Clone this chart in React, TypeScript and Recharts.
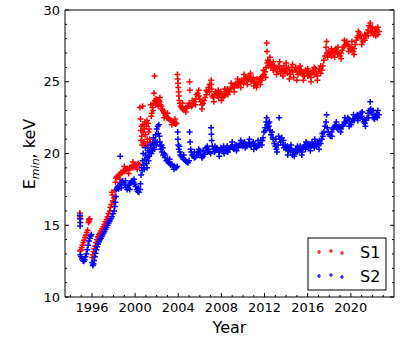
import { ScatterChart, Scatter, XAxis, YAxis } from 'recharts';

// [year, E_min keV], S1 (red)
const s1Early: [number, number][] = [
  [1994.88, 15.85], [1994.9, 15.6], [1994.92, 15.45],
  [1994.9, 13.2], [1994.98, 13.3], [1995.05, 13.45], [1995.12, 13.6], [1995.2, 13.8],
  [1995.28, 13.95], [1995.36, 14.15], [1995.44, 14.3], [1995.52, 14.5], [1995.6, 14.65],
  [1995.68, 15.2], [1995.72, 15.4], [1995.76, 15.3], [1995.8, 15.45],
  [1996.02, 12.75], [1996.08, 12.95], [1996.15, 13.15], [1996.22, 13.35], [1996.3, 13.55],
  [1996.38, 13.8], [1996.46, 14.0], [1996.55, 14.2], [1996.65, 14.35], [1996.75, 14.45],
  [1996.85, 14.6], [1996.95, 14.75], [1997.05, 14.9], [1997.15, 15.05], [1997.25, 15.25],
  [1997.35, 15.4], [1997.45, 15.6], [1997.55, 15.8], [1997.65, 16.0], [1997.72, 16.25],
  [1997.8, 16.45], [1997.85, 17.3], [1997.9, 17.1], [1997.95, 16.7], [1998.0, 16.6],
  [1998.05, 16.9], [1998.12, 17.4], [1998.18, 18.0], [1998.22, 18.3], [1998.3, 18.4],
  [1998.4, 18.35], [1998.5, 18.5], [1998.6, 18.55], [1998.7, 18.7], [1998.8, 18.65],
  [1998.9, 18.8], [1999.0, 18.75], [1999.1, 18.85], [1999.2, 18.9], [1999.3, 18.95],
  [1999.4, 18.85], [1999.5, 19.0], [1999.6, 19.05], [1999.7, 19.1], [1999.8, 19.0],
  [1999.9, 19.15], [2000.0, 19.2], [2000.1, 19.1], [2000.2, 19.25], [2000.3, 19.3],
  [2000.4, 19.2],
];

const s1Jump: [number, number][] = [
  [2000.45, 23.2], [2000.5, 22.4], [2000.52, 21.6], [2000.55, 20.9], [2000.6, 21.9],
  [2000.62, 21.2], [2000.65, 20.6], [2000.7, 23.3], [2000.72, 22.0], [2000.75, 21.5],
  [2000.8, 20.8], [2000.85, 21.7], [2000.9, 22.2], [2000.92, 20.7], [2000.95, 21.3],
  [2001.0, 20.5], [2001.05, 21.9], [2001.1, 22.3], [2001.12, 21.0], [2001.18, 20.6],
  [2001.2, 22.1], [2001.25, 21.5], [2001.3, 21.7], [2001.35, 21.0], [2001.4, 20.8],
  [2001.45, 23.4], [2001.5, 22.6], [2001.55, 22.8], [2001.6, 23.2], [2001.65, 23.0],
  [2001.7, 23.5], [2001.75, 24.2], [2001.8, 25.4], [2001.82, 23.7], [2001.9, 23.4],
  [2001.95, 23.8], [2002.0, 23.5], [2002.08, 23.6], [2002.15, 23.3], [2002.2, 23.7],
  [2002.28, 23.6], [2002.35, 23.4], [2002.42, 23.3], [2002.5, 23.1], [2002.58, 23.0],
  [2002.65, 22.9], [2002.72, 22.8], [2002.8, 22.7], [2002.88, 22.6], [2002.95, 22.5],
  [2003.05, 22.45], [2003.15, 22.4], [2003.25, 22.35], [2003.35, 22.3], [2003.45, 22.2],
  [2003.55, 22.15], [2003.65, 22.1], [2003.75, 22.05], [2003.85, 22.1],
];

const s1Mid: [number, number][] = [
  [2003.92, 25.5], [2003.95, 25.2], [2003.98, 24.9], [2004.0, 24.6], [2004.03, 24.3],
  [2004.06, 24.0], [2004.1, 23.7], [2004.15, 23.5], [2004.22, 23.3], [2004.3, 23.2],
  [2004.4, 23.1], [2004.5, 23.05], [2004.6, 23.1], [2004.7, 23.2], [2004.8, 23.15],
  [2004.9, 23.3], [2005.0, 23.5], [2005.05, 25.0], [2005.08, 24.4], [2005.12, 23.4],
  [2005.2, 23.3], [2005.3, 23.35], [2005.4, 23.5], [2005.5, 23.6], [2005.6, 23.8],
  [2005.7, 24.1], [2005.8, 24.2], [2005.9, 24.0], [2006.0, 23.8], [2006.1, 23.6],
  [2006.2, 23.4], [2006.3, 23.5], [2006.4, 23.7], [2006.5, 23.9], [2006.6, 24.1],
  [2006.7, 24.3], [2006.8, 24.6], [2006.9, 24.8], [2007.05, 25.1], [2007.07, 24.8],
  [2007.1, 24.5], [2007.15, 24.0], [2007.25, 23.9], [2007.35, 24.1], [2007.45, 24.3],
  [2007.55, 24.2], [2007.65, 24.0], [2007.75, 23.9], [2007.85, 24.1], [2007.95, 24.3],
  [2008.05, 24.1], [2008.15, 23.9], [2008.25, 24.0], [2008.35, 24.2], [2008.45, 24.4],
  [2008.55, 24.5], [2008.65, 24.4], [2008.75, 24.3], [2008.85, 24.5], [2008.95, 24.6],
  [2009.05, 24.7], [2009.15, 24.6], [2009.25, 24.8], [2009.35, 24.9], [2009.45, 24.7],
  [2009.55, 24.8], [2009.65, 25.0], [2009.75, 24.9], [2009.85, 25.1], [2009.95, 25.0],
  [2010.05, 24.9], [2010.15, 25.2], [2010.25, 25.3], [2010.35, 25.1], [2010.45, 25.3],
  [2010.55, 25.4], [2010.65, 25.2], [2010.75, 25.0], [2010.85, 25.1], [2010.95, 25.3],
  [2011.05, 25.0], [2011.15, 24.9], [2011.25, 24.6], [2011.35, 24.8], [2011.45, 25.0],
  [2011.55, 25.2], [2011.65, 25.3], [2011.75, 25.1], [2011.85, 25.4], [2011.95, 25.5],
  [2012.05, 25.7], [2012.1, 25.3],
];

const s1Late: [number, number][] = [
  [2012.15, 26.0], [2012.2, 27.7], [2012.22, 27.1], [2012.25, 26.3], [2012.3, 26.5],
  [2012.35, 26.1], [2012.4, 26.4], [2012.5, 26.3], [2012.6, 26.0], [2012.7, 26.2],
  [2012.8, 25.8], [2012.9, 26.1], [2013.0, 25.9], [2013.1, 26.0], [2013.2, 25.7],
  [2013.3, 26.1], [2013.4, 25.9], [2013.5, 25.6], [2013.6, 25.9], [2013.7, 25.8],
  [2013.8, 26.1], [2013.9, 25.7], [2014.0, 25.9], [2014.1, 25.6], [2014.2, 26.0],
  [2014.3, 25.8], [2014.4, 25.5], [2014.5, 26.0], [2014.6, 25.7], [2014.7, 25.3],
  [2014.8, 25.8], [2014.9, 26.0], [2015.0, 25.7], [2015.1, 25.5], [2015.2, 25.9],
  [2015.3, 25.6], [2015.4, 25.8], [2015.5, 25.5], [2015.6, 25.7], [2015.7, 25.4],
  [2015.8, 25.8], [2015.9, 25.6], [2016.0, 25.4], [2016.1, 25.7], [2016.2, 25.5],
  [2016.3, 25.3], [2016.4, 25.6], [2016.5, 25.8], [2016.6, 25.5], [2016.7, 25.9],
  [2016.8, 25.6], [2016.9, 25.4], [2017.0, 25.7], [2017.1, 25.9], [2017.2, 25.6],
  [2017.3, 25.8], [2017.4, 26.1], [2017.5, 26.5], [2017.6, 26.8], [2017.7, 27.4],
  [2017.75, 27.8], [2017.8, 27.0], [2017.85, 26.7], [2017.9, 27.1], [2018.0, 26.9],
  [2018.1, 27.0], [2018.2, 26.8], [2018.3, 27.1], [2018.4, 27.0], [2018.5, 27.2],
  [2018.6, 27.3], [2018.7, 27.1], [2018.8, 26.9], [2018.9, 27.0], [2019.0, 26.8],
  [2019.1, 27.0], [2019.2, 27.2], [2019.3, 27.4], [2019.4, 27.5], [2019.5, 27.6],
  [2019.6, 27.8], [2019.7, 27.6], [2019.8, 27.5], [2019.9, 27.3], [2020.0, 27.2],
  [2020.1, 27.4], [2020.2, 27.1], [2020.3, 27.3], [2020.4, 27.6], [2020.5, 27.9],
  [2020.6, 28.1], [2020.7, 28.2], [2020.8, 28.4], [2020.9, 28.2], [2021.0, 28.0],
  [2021.1, 27.8], [2021.2, 28.0], [2021.3, 27.9], [2021.4, 28.2], [2021.5, 28.4],
  [2021.6, 28.6], [2021.7, 28.9], [2021.8, 29.1], [2021.85, 28.8], [2021.9, 28.5],
  [2022.0, 28.4], [2022.1, 28.3], [2022.2, 28.5], [2022.3, 28.7], [2022.4, 28.6],
  [2022.5, 28.8], [2022.6, 28.5],
];

// upper / lower edges of the S1 scatter band
const s1Spread: [number, number][] = [
  [1998.6, 18.2], [1999.0, 19.1], [1999.4, 18.6], [1999.8, 19.4], [2000.2, 18.9],
  [2002.3, 23.9], [2002.7, 22.5], [2003.0, 22.8], [2003.4, 22.0], [2003.7, 22.4],
  [2004.4, 23.5], [2004.7, 22.9], [2005.3, 23.7], [2005.6, 23.4], [2005.9, 24.4],
  [2006.2, 23.1], [2006.6, 24.4], [2006.9, 24.3], [2007.3, 23.6], [2007.7, 24.4],
  [2008.0, 23.7], [2008.3, 24.5], [2008.6, 24.1], [2008.9, 24.9], [2009.2, 24.3],
  [2009.5, 25.2], [2009.8, 24.6], [2010.1, 25.5], [2010.4, 24.8], [2010.7, 25.6],
  [2011.0, 24.7], [2011.3, 25.2], [2011.6, 24.8], [2011.9, 25.8], [2012.5, 26.7],
  [2012.8, 26.4], [2013.1, 25.5], [2013.4, 26.4], [2013.7, 25.4], [2014.0, 26.3],
  [2014.3, 25.2], [2014.6, 26.2], [2015.0, 25.1], [2015.3, 26.1], [2015.6, 25.1],
  [2016.0, 25.9], [2016.3, 25.0], [2016.6, 26.0], [2016.9, 25.1], [2017.2, 26.1],
  [2018.2, 27.3], [2018.5, 26.7], [2018.8, 27.4], [2019.1, 26.6], [2019.4, 27.9],
  [2019.8, 27.1], [2020.1, 27.8], [2020.3, 26.9], [2020.7, 28.5], [2021.0, 27.6],
  [2021.3, 28.3], [2021.6, 28.2], [2022.0, 28.8], [2022.3, 28.2], [2022.5, 28.3],
];

// S2 (blue)
const s2Early: [number, number][] = [
  [1994.88, 15.7], [1994.9, 15.45], [1994.92, 15.2], [1994.9, 14.95],
  [1994.92, 12.95], [1995.0, 12.8], [1995.08, 12.65], [1995.16, 12.55], [1995.24, 12.5],
  [1995.32, 12.6], [1995.4, 12.8], [1995.48, 13.0], [1995.56, 13.3], [1995.64, 13.6],
  [1995.72, 13.9], [1995.8, 14.1], [1995.88, 14.25], [1995.94, 14.35],
  [1996.02, 12.4], [1996.08, 12.2], [1996.14, 12.3], [1996.2, 12.55], [1996.26, 12.8],
  [1996.33, 13.05], [1996.4, 13.3], [1996.48, 13.5], [1996.56, 13.7], [1996.65, 13.85],
  [1996.75, 14.0], [1996.85, 14.1], [1996.95, 14.25], [1997.05, 14.4], [1997.15, 14.55],
  [1997.25, 14.7], [1997.35, 14.85], [1997.45, 15.0], [1997.55, 15.15], [1997.65, 15.3],
  [1997.75, 15.45], [1997.85, 15.6], [1997.95, 15.8], [1998.05, 16.0], [1998.12, 16.3],
  [1998.18, 16.6], [1998.22, 17.0], [1998.26, 17.5], [1998.32, 17.6], [1998.4, 17.7],
  [1998.48, 17.55], [1998.55, 17.7], [1998.62, 19.8], [1998.65, 17.9], [1998.75, 18.0],
  [1998.85, 18.1], [1998.95, 17.95], [1999.05, 17.8], [1999.15, 17.65], [1999.25, 17.5],
  [1999.35, 17.6], [1999.45, 17.8], [1999.55, 17.95], [1999.65, 18.05], [1999.75, 18.1],
  [1999.85, 18.0], [1999.95, 17.85], [2000.05, 17.7], [2000.15, 17.5], [2000.25, 17.35],
  [2000.35, 17.3], [2000.45, 17.5],
];

const s2Jump: [number, number][] = [
  [2000.5, 17.9], [2000.55, 18.5], [2000.6, 19.0], [2000.65, 18.8], [2000.7, 19.5],
  [2000.75, 20.0], [2000.8, 19.2], [2000.85, 18.9], [2000.9, 19.6], [2000.95, 20.4],
  [2001.0, 19.9], [2001.05, 19.3], [2001.1, 19.0], [2001.15, 19.7], [2001.2, 20.2],
  [2001.25, 19.5], [2001.3, 19.8], [2001.35, 20.1], [2001.4, 20.6], [2001.45, 20.3],
  [2001.5, 20.0], [2001.55, 20.4], [2001.6, 20.2], [2001.65, 20.7], [2001.7, 21.1],
  [2001.75, 20.6], [2001.8, 20.3], [2001.85, 20.9], [2001.9, 21.3], [2001.95, 20.6],
  [2002.0, 21.7], [2002.05, 20.8], [2002.1, 21.9], [2002.15, 21.4], [2002.2, 22.0],
  [2002.25, 21.2], [2002.3, 20.8], [2002.35, 20.5], [2002.4, 20.3], [2002.45, 20.6],
  [2002.5, 20.1], [2002.55, 20.4], [2002.6, 19.9], [2002.7, 20.0], [2002.8, 19.7],
  [2002.9, 19.5], [2003.0, 19.6], [2003.1, 19.4], [2003.2, 19.3], [2003.3, 19.2],
  [2003.4, 19.25], [2003.5, 19.15], [2003.6, 19.1], [2003.7, 19.05], [2003.8, 19.0],
  [2003.9, 19.1],
];

const s2Mid: [number, number][] = [
  [2003.95, 21.5], [2003.97, 21.0], [2004.0, 20.6], [2004.05, 20.3], [2004.1, 20.5],
  [2004.15, 20.1], [2004.2, 19.9], [2004.3, 19.8], [2004.4, 19.7], [2004.5, 19.6],
  [2004.6, 19.55], [2004.7, 19.5], [2004.8, 19.4], [2004.9, 19.35], [2005.0, 19.5],
  [2005.05, 21.5], [2005.1, 20.8], [2005.15, 20.3], [2005.2, 20.1], [2005.3, 19.9],
  [2005.4, 19.8], [2005.5, 19.7], [2005.6, 19.75], [2005.7, 19.9], [2005.8, 20.1],
  [2005.9, 20.3], [2006.0, 20.2], [2006.1, 19.9], [2006.2, 19.7], [2006.3, 19.8],
  [2006.4, 19.95], [2006.5, 20.2], [2006.6, 20.4], [2006.7, 20.5], [2006.8, 20.3],
  [2006.9, 20.1], [2007.0, 20.0], [2007.05, 21.8], [2007.07, 21.35], [2007.1, 20.9],
  [2007.15, 20.5], [2007.25, 20.3], [2007.35, 20.1], [2007.45, 20.2], [2007.55, 20.4],
  [2007.65, 20.3], [2007.75, 20.1], [2007.85, 20.2], [2007.95, 20.4], [2008.05, 20.3],
  [2008.15, 20.15], [2008.25, 20.0], [2008.35, 20.2], [2008.45, 20.4], [2008.55, 20.5],
  [2008.65, 20.35], [2008.75, 20.3], [2008.85, 20.45], [2008.95, 20.5], [2009.05, 20.4],
  [2009.15, 20.3], [2009.25, 20.5], [2009.35, 20.6], [2009.45, 20.5], [2009.55, 20.4],
  [2009.65, 20.6], [2009.75, 20.7], [2009.85, 20.6], [2009.95, 20.5], [2010.05, 20.7],
  [2010.15, 20.8], [2010.25, 20.6], [2010.35, 20.5], [2010.45, 20.6], [2010.55, 20.75],
  [2010.65, 20.6], [2010.75, 20.5], [2010.85, 20.7], [2010.95, 20.8], [2011.05, 20.6],
  [2011.15, 20.5], [2011.25, 20.4], [2011.35, 20.5], [2011.45, 20.7], [2011.55, 20.6],
  [2011.65, 20.9], [2011.75, 20.6], [2011.85, 21.1], [2011.95, 21.5], [2012.05, 21.8],
  [2012.1, 21.6],
];

const s2Late: [number, number][] = [
  [2012.15, 22.2], [2012.2, 22.5], [2012.25, 22.0], [2012.3, 21.8], [2012.35, 22.1],
  [2012.4, 21.9], [2012.5, 21.6], [2012.6, 21.3], [2012.7, 21.5], [2012.8, 21.0],
  [2012.9, 20.7], [2013.0, 20.5], [2013.05, 21.0], [2013.1, 20.3], [2013.15, 20.1],
  [2013.3, 21.2], [2013.35, 22.5], [2013.4, 21.0], [2013.5, 20.8], [2013.6, 21.1],
  [2013.7, 20.6], [2013.8, 20.4], [2013.9, 20.6], [2014.0, 20.3], [2014.1, 20.5],
  [2014.2, 20.2], [2014.3, 20.4], [2014.4, 20.1], [2014.5, 20.3], [2014.6, 19.9],
  [2014.7, 20.2], [2014.8, 20.0], [2014.9, 20.3], [2015.0, 20.1], [2015.1, 20.4],
  [2015.2, 20.2], [2015.3, 20.5], [2015.4, 20.3], [2015.5, 20.1], [2015.6, 20.4],
  [2015.7, 20.6], [2015.8, 20.3], [2015.9, 20.5], [2016.0, 20.7], [2016.1, 20.4],
  [2016.2, 20.6], [2016.3, 20.5], [2016.4, 20.8], [2016.5, 20.6], [2016.6, 20.4],
  [2016.7, 20.7], [2016.8, 20.5], [2016.9, 20.8], [2017.0, 20.6], [2017.1, 20.9],
  [2017.2, 20.7], [2017.3, 21.0], [2017.4, 21.2], [2017.5, 21.5], [2017.6, 21.9],
  [2017.7, 22.2], [2017.75, 22.7], [2017.8, 21.8], [2017.9, 21.5], [2018.0, 21.3],
  [2018.1, 21.2], [2018.2, 21.5], [2018.3, 21.7], [2018.4, 21.8], [2018.5, 21.9],
  [2018.6, 22.0], [2018.7, 21.8], [2018.8, 21.7], [2018.9, 21.9], [2019.0, 21.8],
  [2019.1, 21.7], [2019.2, 21.9], [2019.3, 22.0], [2019.4, 22.2], [2019.5, 22.1],
  [2019.6, 22.3], [2019.7, 22.5], [2019.8, 22.4], [2019.9, 22.2], [2020.0, 22.0],
  [2020.1, 22.2], [2020.2, 22.4], [2020.3, 22.3], [2020.4, 22.5], [2020.5, 22.6],
  [2020.6, 22.7], [2020.7, 22.5], [2020.8, 22.6], [2020.9, 22.8], [2021.0, 22.6],
  [2021.1, 22.4], [2021.2, 22.2], [2021.3, 22.1], [2021.4, 22.3], [2021.5, 22.5],
  [2021.6, 22.8], [2021.7, 23.0], [2021.8, 23.6], [2021.85, 23.1], [2021.9, 22.9],
  [2022.0, 22.7], [2022.1, 22.5], [2022.2, 22.4], [2022.3, 22.6], [2022.4, 22.8],
  [2022.5, 23.0], [2022.6, 22.7],
];

// upper / lower edges of the S2 scatter band
const s2Spread: [number, number][] = [
  [1998.7, 17.6], [1999.1, 18.1], [1999.5, 17.5], [1999.9, 18.2], [2000.3, 17.6],
  [2002.8, 19.9], [2003.2, 19.6], [2003.6, 18.9],
  [2004.5, 19.9], [2005.5, 20.1], [2005.9, 19.9], [2006.3, 20.2], [2006.7, 20.1],
  [2007.4, 20.5], [2007.8, 19.8], [2008.2, 20.5], [2008.6, 20.1], [2009.0, 20.8],
  [2009.4, 20.2], [2009.8, 20.9], [2010.2, 20.4], [2010.6, 21.0], [2011.0, 20.3],
  [2011.4, 20.9], [2011.8, 20.9], [2012.45, 22.2], [2012.75, 21.1], [2013.25, 20.6],
  [2013.75, 20.9], [2014.15, 19.9], [2014.45, 20.6], [2014.75, 19.8], [2015.05, 20.5],
  [2015.45, 19.9], [2015.85, 20.8], [2016.25, 20.2], [2016.65, 21.0], [2017.05, 20.3],
  [2017.35, 21.4], [2018.25, 21.2], [2018.65, 22.2], [2019.05, 21.5], [2019.45, 22.5],
  [2019.85, 21.9], [2020.25, 22.7], [2020.65, 22.3], [2021.05, 22.9], [2021.35, 21.9],
  [2021.65, 22.5], [2022.05, 23.0], [2022.45, 22.5],
];

const xTicks = [1994, 1995, 1996, 1997, 1998, 1999, 2000, 2001, 2002, 2003, 2004, 2005,
  2006, 2007, 2008, 2009, 2010, 2011, 2012, 2013, 2014, 2015, 2016, 2017, 2018, 2019,
  2020, 2021, 2022, 2023];
const yTicks = [10, 11, 12, 13, 14, 15, 16, 17, 18, 19, 20, 21, 22, 23, 24, 25, 26, 27, 28, 29, 30];

const FONT = '"DejaVu Sans", sans-serif';
const AXIS = '#000';

const toPts = (...parts: [number, number][][]) =>
  parts.flat().map(([x, y]) => ({ x, y }));

const s1 = toPts(s1Early, s1Jump, s1Mid, s1Late, s1Spread);
const s2 = toPts(s2Early, s2Jump, s2Mid, s2Late, s2Spread);

const plus = (color: string) => (props: any) => {
  const { cx, cy } = props;
  if (cx == null || cy == null) return <g />;
  return (
    <path
      d={`M${cx - 3},${cy}H${cx + 3}M${cx},${cy - 3}V${cy + 3}`}
      stroke={color}
      strokeWidth={1.5}
      fill="none"
    />
  );
};

const isMajorX = (v: number) => v % 4 === 0;
const isMajorY = (v: number) => v % 5 === 0;

const BottomTick = ({ x, y, payload }: any) => {
  const v = payload.value;
  const major = isMajorX(v);
  return (
    <g>
      <line x1={x} x2={x} y1={y} y2={y - (major ? 4 : 2)} stroke={AXIS} />
      {major && (
        <text x={x} y={y + 14.5} textAnchor="middle" fontSize={13} fontFamily={FONT} fill="#000">
          {v}
        </text>
      )}
    </g>
  );
};

const TopTick = ({ x, y, payload }: any) => (
  <line x1={x} x2={x} y1={y} y2={y + (isMajorX(payload.value) ? 4 : 2)} stroke={AXIS} />
);

const LeftTick = ({ x, y, payload }: any) => {
  const v = payload.value;
  const major = isMajorY(v);
  return (
    <g>
      <line x1={x} x2={x + (major ? 4 : 2)} y1={y} y2={y} stroke={AXIS} />
      {major && (
        <text x={x - 5} y={y + 4.7} textAnchor="end" fontSize={13} fontFamily={FONT} fill="#000">
          {v}
        </text>
      )}
    </g>
  );
};

const RightTick = ({ x, y, payload }: any) => (
  <line x1={x} x2={x - (isMajorY(payload.value) ? 4 : 2)} y1={y} y2={y} stroke={AXIS} />
);

const YLabel = () => (
  <text
    transform="translate(35,154) rotate(-90)"
    textAnchor="middle"
    fontSize={16}
    fontFamily={FONT}
    fill="#000"
  >
    E
    <tspan dy={4} fontSize={11} fontStyle="italic">min</tspan>
    <tspan dy={-4}>, keV</tspan>
  </text>
);

const LegendBox = () => (
  <svg
    width={80}
    height={54}
    style={{ position: 'absolute', left: 307, top: 237 }}
  >
    <rect x={1} y={1} width={78} height={52} fill="#fff" stroke="#000" strokeWidth={1} />
    {[
      { name: 'S1', color: '#ff0000', cy: 15 },
      { name: 'S2', color: '#0000ff', cy: 39 },
    ].map((row) => (
      <g key={row.name}>
        {[12, 24, 35].map((mx, i) => {
          const my = row.cy + (i === 1 ? -1 : i === 2 ? 1 : 0);
          return (
            <path
              key={mx}
              d={`M${mx - 2},${my}H${mx + 2}M${mx},${my - 2}V${my + 2}`}
              stroke={row.color}
              strokeWidth={1.2}
            />
          );
        })}
        <text x={53} y={row.cy + 6} fontSize={16} fontFamily={FONT} fill="#000">
          {row.name}
        </text>
      </g>
    ))}
  </svg>
);

export default function App() {
  return (
    <div style={{ position: 'relative', width: 407, height: 339, fontFamily: FONT }}>
      <style>{'body{margin:0}'}</style>
      <ScatterChart width={407} height={339} margin={{ top: 0, right: 0, bottom: 0, left: 0 }}>
        <XAxis
          xAxisId={0}
          type="number"
          dataKey="x"
          domain={[1993.5, 2024]}
          ticks={xTicks}
          interval={0}
          allowDataOverflow
          height={42}
          tickSize={0}
          tickMargin={0}
          tickLine={false}
          tick={<BottomTick />}
          axisLine={{ stroke: AXIS }}
          label={{ value: 'Year', position: 'insideBottom', offset: 6, fontSize: 16, fill: '#000', fontFamily: FONT }}
        />
        <XAxis
          xAxisId="top"
          orientation="top"
          type="number"
          domain={[1993.5, 2024]}
          ticks={xTicks}
          interval={0}
          allowDataOverflow
          height={10}
          tickSize={0}
          tickMargin={0}
          tickLine={false}
          tick={<TopTick />}
          axisLine={{ stroke: AXIS }}
        />
        <YAxis
          yAxisId={0}
          type="number"
          dataKey="y"
          domain={[10, 30]}
          ticks={yTicks}
          interval={0}
          allowDataOverflow
          width={65}
          tickSize={0}
          tickMargin={0}
          tickLine={false}
          tick={<LeftTick />}
          axisLine={{ stroke: AXIS }}
          label={<YLabel />}
        />
        <YAxis
          yAxisId="right"
          orientation="right"
          type="number"
          domain={[10, 30]}
          ticks={yTicks}
          interval={0}
          allowDataOverflow
          width={13}
          tickSize={0}
          tickMargin={0}
          tickLine={false}
          tick={<RightTick />}
          axisLine={{ stroke: AXIS }}
        />
        <Scatter name="S1" data={s1} xAxisId={0} yAxisId={0} shape={plus('#ff0000')} isAnimationActive={false} />
        <Scatter name="S2" data={s2} xAxisId={0} yAxisId={0} shape={plus('#0000ff')} isAnimationActive={false} />
      </ScatterChart>
      <LegendBox />
    </div>
  );
}
